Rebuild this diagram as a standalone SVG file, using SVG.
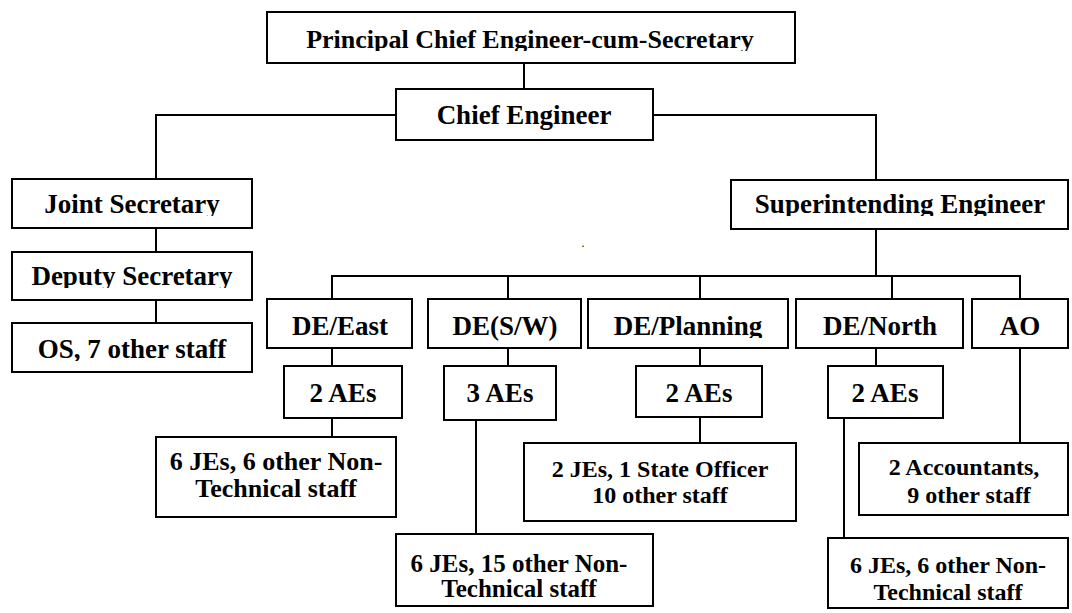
<svg xmlns="http://www.w3.org/2000/svg" width="1072" height="613" viewBox="0 0 1072 613">
<style>
.box{fill:#fff;stroke:#000;stroke-width:2}
.t{font-family:'Liberation Serif','Times New Roman','DejaVu Serif',serif;font-weight:700;font-size:27px;fill:#000;text-anchor:middle}
.s{font-size:24px}
.m{font-size:26px}
.n{font-size:25px}
.c{fill:none;stroke:#000;stroke-width:2}
</style>
<defs>
<clipPath id="cp1" clipPathUnits="userSpaceOnUse"><rect x="260" y="10" width="540" height="41"/></clipPath>
<clipPath id="cp3" clipPathUnits="userSpaceOnUse"><rect x="10" y="180" width="245" height="36"/></clipPath>
<clipPath id="cp4" clipPathUnits="userSpaceOnUse"><rect x="10" y="253" width="245" height="35"/></clipPath>
<clipPath id="cp5" clipPathUnits="userSpaceOnUse"><rect x="10" y="324" width="245" height="37"/></clipPath>
<clipPath id="cp6" clipPathUnits="userSpaceOnUse"><rect x="730" y="181" width="340" height="35"/></clipPath>
<clipPath id="cp11" clipPathUnits="userSpaceOnUse"><rect x="588" y="300" width="200" height="38"/></clipPath>
</defs>
<g id="connectors">
<path class="c" d="M524 63V89"/>
<path class="c" d="M396 115H156V179"/>
<path class="c" d="M653 115H876V180"/>
<path class="c" d="M156 228V252"/>
<path class="c" d="M156 300V323"/>
<path class="c" d="M876 229V276"/>
<path class="c" d="M332 299V276H1020V299"/>
<path class="c" d="M508 276V299"/>
<path class="c" d="M700 276V299"/>
<path class="c" d="M892 276V299"/>
<path class="c" d="M332 348V366"/>
<path class="c" d="M332 418V437"/>
<path class="c" d="M508 348V366"/>
<path class="c" d="M476 420V534"/>
<path class="c" d="M700 348V366"/>
<path class="c" d="M700 417V443"/>
<path class="c" d="M876 348V366"/>
<path class="c" d="M844 418V538"/>
<path class="c" d="M1020 348V443"/>
</g>
<g id="pce"><rect class="box" x="267" y="12" width="528" height="51"/><text class="t m" x="530" y="48" clip-path="url(#cp1)">Principal Chief Engineer-cum-Secretary</text></g>
<g id="ce"><rect class="box" x="396" y="89" width="257" height="51"/><text class="t" x="524" y="124">Chief Engineer</text></g>
<g id="js"><rect class="box" x="12" y="179" width="240" height="49"/><text class="t" x="132" y="213" clip-path="url(#cp3)">Joint Secretary</text></g>
<g id="ds"><rect class="box" x="12" y="252" width="240" height="48"/><text class="t" x="132" y="285" clip-path="url(#cp4)">Deputy Secretary</text></g>
<g id="os"><rect class="box" x="12" y="323" width="240" height="49"/><text class="t" x="132" y="358" clip-path="url(#cp5)">OS, 7 other staff</text></g>
<g id="se"><rect class="box" x="731" y="180" width="337" height="49"/><text class="t" x="900" y="213" clip-path="url(#cp6)">Superintending Engineer</text></g>
<g id="dot"><text class="t" x="583" y="247" style="font-size:12px;font-weight:normal">.</text></g>
<g id="de-east"><rect class="box" x="267" y="299" width="145" height="49"/><text class="t" x="340" y="335">DE/East</text></g>
<g id="de-sw"><rect class="box" x="428" y="299" width="153" height="49"/><text class="t" x="505" y="335">DE(S/W)</text></g>
<g id="de-planning"><rect class="box" x="588" y="299" width="200" height="49"/><text class="t" x="688" y="335" clip-path="url(#cp11)">DE/Planning</text></g>
<g id="de-north"><rect class="box" x="796" y="299" width="167" height="49"/><text class="t" x="880" y="335">DE/North</text></g>
<g id="ao"><rect class="box" x="972" y="299" width="96" height="49"/><text class="t" x="1020" y="335">AO</text></g>
<g id="east-aes"><rect class="box" x="284" y="366" width="118" height="52"/><text class="t" x="343" y="402">2 AEs</text></g>
<g id="sw-aes"><rect class="box" x="444" y="366" width="112" height="54"/><text class="t" x="500" y="402">3 AEs</text></g>
<g id="planning-aes"><rect class="box" x="636" y="366" width="126" height="51"/><text class="t" x="699" y="402">2 AEs</text></g>
<g id="north-aes"><rect class="box" x="828" y="366" width="115" height="52"/><text class="t" x="885" y="402">2 AEs</text></g>
<g id="east-staff"><rect class="box" x="156" y="437" width="240" height="80"/><text class="t m" x="276" y="470">6 JEs, 6 other Non-</text><text class="t m" x="276" y="497">Technical staff</text></g>
<g id="planning-staff"><rect class="box" x="524" y="443" width="272" height="78"/><text class="t s" x="660" y="477">2 JEs, 1 State Officer</text><text class="t s" x="660" y="503">10 other staff</text></g>
<g id="ao-staff"><rect class="box" x="859" y="443" width="209" height="72"/><text class="t s" x="964" y="475">2 Accountants,</text><text class="t s" x="969" y="503">9 other staff</text></g>
<g id="sw-staff"><rect class="box" x="396" y="534" width="257" height="72"/><text class="t n" x="519" y="572">6 JEs, 15 other Non-</text><text class="t n" x="519" y="597">Technical staff</text></g>
<g id="north-staff"><rect class="box" x="828" y="538" width="240" height="70"/><text class="t s" x="948" y="573">6 JEs, 6 other Non-</text><text class="t s" x="948" y="600">Technical staff</text></g>
</svg>
